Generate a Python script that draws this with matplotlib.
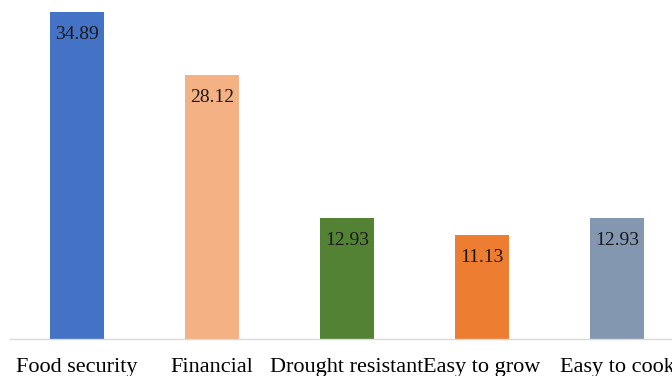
import matplotlib
matplotlib.use("Agg")
from matplotlib import pyplot as plt
import numpy as np

# --- data ---
categories = ["Food security", "Financial", "Drought resistant", "Easy to grow", "Easy to cook"]
values = [34.89, 28.12, 12.93, 11.13, 12.93]
colors = ["#4472C4", "#F4B183", "#548235", "#ED7D31", "#8497B0"]

plt.rcParams['font.family'] = ['Liberation Serif', 'DejaVu Serif']

fig = plt.figure(figsize=(6.72, 3.76), dpi=100)
ax = fig.add_axes([9.5 / 672, 37 / 376, 1 - 9.5 / 672, 339 / 376])

x = np.arange(len(categories))
bars = ax.bar(x, values, width=0.4, color=colors)

# value labels inside the top of each bar
for b, v in zip(bars, values):
    ax.annotate(f"{v:.2f}", xy=(b.get_x() + b.get_width() / 2, v),
                xytext=(0, -10), textcoords="offset points",
                ha="center", va="top", fontsize=14, color="#1a1a1a")

ax.set_xlim(-0.5, 4.407)
ax.set_ylim(0, 36.17)
ax.set_xticks(x)
ax.set_xticklabels(categories, fontsize=16)
ax.tick_params(axis="x", length=0, pad=14)
ax.set_yticks([])

for side in ["left", "right", "top"]:
    ax.spines[side].set_visible(False)
ax.spines["bottom"].set_color("#D9D9D9")
ax.spines["bottom"].set_linewidth(1.0)

fig.savefig("out.png", dpi=100)
